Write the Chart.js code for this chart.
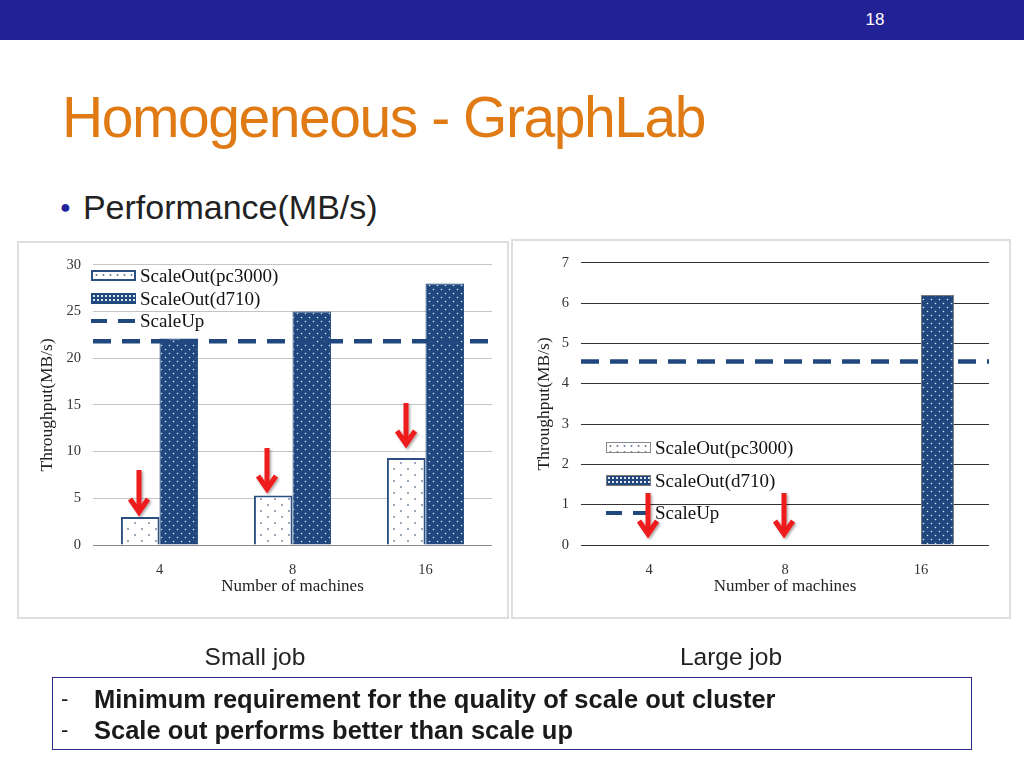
<!DOCTYPE html>
<html lang="en">
<head>
    <meta charset="UTF-8">
    <title>Homogeneous - GraphLab</title>
    <script src="https://cdn.jsdelivr.net/npm/chart.js"></script>
    <style>
        body {
            margin: 0;
            width: 1024px;
            height: 768px;
            position: relative;
            overflow: hidden;
            background: #fff;
            font-family: "Liberation Sans", Arial, sans-serif;
        }

        .topbar {
            position: absolute;
            left: 0; top: 0;
            width: 1024px; height: 40px;
            background: #222296;
        }

        .pagenum {
            position: absolute;
            left: 860px; top: 10px;
            width: 30px;
            text-align: center;
            color: #fff;
            font-size: 17px;
            line-height: 20px;
        }

        h1 {
            position: absolute;
            left: 62px; top: 89px;
            margin: 0;
            font-weight: normal;
            font-size: 57px;
            line-height: 1;
            letter-spacing: -1.45px;
            color: #DF7A14;
        }

        .bullet {
            position: absolute;
            left: 60px; top: 190px;
            font-size: 34px;
            line-height: 1;
            color: #222;
        }
        .bullet span { color: #22229a; font-size: 18px; vertical-align: 6px; margin-right: 12px; }

        /* chart panels */
        .panel {
            position: absolute;
            border: 2px solid #dedede;
            box-sizing: border-box;
        }
        #leftPanel { left: 17px; top: 241px; width: 492px; height: 378px; }
        #rightPanel { left: 511px; top: 239px; width: 500px; height: 380px; }

        .chart-wrap { position: absolute; }
        #leftWrap { left: 20px; top: 244px; width: 486px; height: 372px; }
        #rightWrap { left: 514px; top: 242px; width: 494px; height: 374px; }

        /* legends inside the plots */
        .legend {
            position: absolute;
            font-family: "Liberation Serif", "Times New Roman", serif;
            font-size: 19px;
            color: #111;
        }
        .legend div { position: relative; height: 20px; line-height: 20px; padding-left: 49px; white-space: nowrap; }
        .legend i {
            position: absolute;
            left: 0; top: 4px;
            width: 45px; height: 11px;
            box-sizing: border-box;
        }
        .legend .sw-pc {
            border: 2px solid #2B4F81;
            background: #fff radial-gradient(circle, #6d7f99 0.9px, transparent 1.2px) 0 0 / 7px 6px;
        }
        .legend .sw-d7 {
            border: 1px solid #21487E;
            background: #21487E radial-gradient(circle, #dfe6f0 0.8px, transparent 1.1px) 0 0 / 4px 4px;
        }
        .legend .sw-up { top: 8px; height: 4px; width: 46px;
            background: linear-gradient(90deg, #21487E 0 16px, transparent 16px 27px, #21487E 27px 44px, transparent 44px);
        }
        #leftLegend { left: 91px; top: 266px; }
        #leftLegend div { margin-bottom: 2.5px; }
        #rightLegend { left: 606px; top: 438px; }
        #rightLegend div { margin-bottom: 12.5px; }
        #rightLegend .sw-pc { border: 1.5px solid #888; }
        #rightLegend .sw-d7 { border: 1px solid #777; }

        .arrows { position: absolute; left: 0; top: 0; width: 1024px; height: 768px; pointer-events: none; }

        .caption {
            position: absolute;
            top: 643px;
            width: 200px;
            text-align: center;
            font-size: 24.5px;
            line-height: 28px;
            color: #222;
        }

        .notes {
            position: absolute;
            left: 52px; top: 677px;
            width: 920px; height: 73px;
            box-sizing: border-box;
            border: 1px solid #2b2b8c;
            font-size: 25.5px;
            font-weight: bold;
            color: #1a1a1a;
            padding-top: 7px;
        }
        .notes div { position: relative; height: 31px; line-height: 28px; padding-left: 41px; }
        .notes div b { position: absolute; left: 8px; font-weight: normal; font-size: 22px; }
    </style>
</head>
<body>
    <div class="topbar"></div>
    <div class="pagenum">18</div>

    <h1>Homogeneous - GraphLab</h1>
    <div class="bullet"><span>&#9679;</span>Performance(MB/s)</div>

    <div class="panel" id="leftPanel"></div>
    <div class="panel" id="rightPanel"></div>

    <div class="chart-wrap" id="leftWrap"><canvas id="smallChart"></canvas></div>
    <div class="chart-wrap" id="rightWrap"><canvas id="largeChart"></canvas></div>

    <div class="legend" id="leftLegend">
        <div><i class="sw-pc"></i>ScaleOut(pc3000)</div>
        <div><i class="sw-d7"></i>ScaleOut(d710)</div>
        <div><i class="sw-up"></i>ScaleUp</div>
    </div>
    <div class="legend" id="rightLegend">
        <div><i class="sw-pc"></i>ScaleOut(pc3000)</div>
        <div><i class="sw-d7"></i>ScaleOut(d710)</div>
        <div><i class="sw-up"></i>ScaleUp</div>
    </div>

    <svg class="arrows" id="arrows"></svg>

    <div class="caption" style="left:155px;">Small job</div>
    <div class="caption" style="left:631px;">Large job</div>

    <div class="notes">
        <div><b>-</b>Minimum requirement for the quality of scale out cluster</div>
        <div><b>-</b>Scale out performs better than scale up</div>
    </div>

    <script>
        // categories shared by both charts
        const machines = ['4', '8', '16'];

        // small job throughput (MB/s)
        const smallPc3000 = [3.0, 5.3, 9.3];
        const smallD710 = [22.1, 25.0, 28.0];
        const smallScaleUp = 21.8;

        // large job throughput (MB/s) - nothing finished at 4/8 machines
        const largePc3000 = [null, null, null];
        const largeD710 = [null, null, 6.2];
        const largeScaleUp = 4.55;

        const seriesNames = ['ScaleOut(pc3000)', 'ScaleOut(d710)', 'ScaleUp'];
        const navy = '#21487E';

        // dotted fills like the office chart
        function dotPattern(bg, dot, w, h, pts, r) {
            const c = document.createElement('canvas');
            c.width = w; c.height = h;
            const g = c.getContext('2d');
            g.fillStyle = bg;
            g.fillRect(0, 0, w, h);
            g.fillStyle = dot;
            pts.forEach(p => {
                g.beginPath();
                g.arc(p[0], p[1], r, 0, Math.PI * 2);
                g.fill();
            });
            return g.createPattern(c, 'repeat');
        }
        const pcFill = dotPattern('#ffffff', '#6d7f99', 14, 12, [[3, 3], [10, 9]], 0.9);
        const d7Fill = dotPattern(navy, '#e3e9f2', 8, 8, [[1.5, 1.5], [5.5, 5.5]], 0.8);

        // scale-up is one flat value, drawn edge to edge of the category axis
        function flatLine(v) {
            return [{ x: -0.5, y: v }, { x: machines.length - 0.5, y: v }];
        }

        function makeChart(id, cfg) {
            return new Chart(document.getElementById(id), {
                data: {
                    labels: machines,
                    datasets: [
                        {
                            type: 'bar',
                            label: seriesNames[0],
                            data: cfg.pc,
                            backgroundColor: pcFill,
                            borderColor: '#2B4F81',
                            borderWidth: 2,
                            categoryPercentage: cfg.catPct,
                            barPercentage: 1.0,
                            order: 1
                        },
                        {
                            type: 'bar',
                            label: seriesNames[1],
                            data: cfg.d7,
                            backgroundColor: d7Fill,
                            borderColor: cfg.d7Border,
                            borderWidth: 1,
                            categoryPercentage: cfg.catPct,
                            barPercentage: 1.0,
                            order: 1
                        },
                        {
                            type: 'line',
                            label: seriesNames[2],
                            parsing: false,
                            data: flatLine(cfg.up),
                            borderColor: navy,
                            borderWidth: 4.5,
                            borderDash: [18, 11],
                            pointRadius: 0,
                            fill: false,
                            order: cfg.lineOrder
                        }
                    ]
                },
                options: {
                    responsive: true,
                    maintainAspectRatio: false,
                    animation: false,
                    layout: { padding: cfg.pad },
                    plugins: {
                        legend: { display: false },
                        tooltip: { enabled: false }
                    },
                    scales: {
                        x: {
                            type: 'category',
                            offset: true,
                            grid: { display: false },
                            border: { display: false },
                            ticks: {
                                padding: 8,
                                color: '#333',
                                font: { family: 'Liberation Serif', size: 14.5 }
                            },
                            title: {
                                display: true,
                                text: 'Number of machines',
                                color: '#222',
                                padding: { top: 0, bottom: 19 },
                                font: { family: 'Liberation Serif', size: 17 }
                            },
                            afterFit: s => { s.height = 71; }
                        },
                        y: {
                            min: 0,
                            max: cfg.max,
                            grid: {
                                color: ctx => ctx.tick && ctx.tick.value === 0 ? cfg.zeroColor : cfg.gridColor,
                                lineWidth: 1,
                                drawTicks: false
                            },
                            border: { display: false },
                            ticks: {
                                stepSize: cfg.step,
                                padding: 12,
                                color: '#333',
                                font: { family: 'Liberation Serif', size: 14.5 }
                            },
                            title: {
                                display: true,
                                text: 'Throughput(MB/s)',
                                color: '#222',
                                padding: { top: cfg.yTitlePad, bottom: 0 },
                                font: { family: 'Liberation Serif', size: 17.5 }
                            },
                            afterFit: s => { s.width = cfg.yWidth; }
                        }
                    }
                }
            });
        }

        makeChart('smallChart', {
            pc: smallPc3000, d7: smallD710, up: smallScaleUp,
            max: 30, step: 5, catPct: 0.58,
            d7Border: navy, lineOrder: 0,
            gridColor: '#c4c4c4', zeroColor: '#8a8a8a',
            pad: { left: 0, top: 18, right: 14, bottom: 0 },
            yWidth: 73, yTitlePad: 17
        });

        makeChart('largeChart', {
            pc: largePc3000, d7: largeD710, up: largeScaleUp,
            max: 7, step: 1, catPct: 0.485,
            d7Border: '#7a7a7a', lineOrder: 2,
            gridColor: '#333333', zeroColor: '#333333',
            pad: { left: 0, top: 19, right: 19, bottom: 0 },
            yWidth: 67, yTitlePad: 20
        });

        // red call-out arrows placed on the slide (x, top, tip)
        const arrowSpots = [[139, 470, 515], [267, 448, 492], [406, 403, 447], [648, 493, 537], [784, 493, 537]];
        const svg = document.getElementById('arrows');
        svg.innerHTML = '<defs><filter id="sh" x="-50%" y="-50%" width="200%" height="200%">' +
            '<feDropShadow dx="1.5" dy="1.5" stdDeviation="1" flood-color="#000" flood-opacity="0.35"/></filter></defs>' +
            arrowSpots.map(([x, t, b]) =>
                `<g filter="url(#sh)" stroke="#EE1A1A" stroke-width="5" fill="none">
                    <line x1="${x}" y1="${t}" x2="${x}" y2="${b - 3}"/>
                    <polyline points="${x - 9},${b - 16} ${x},${b - 3} ${x + 9},${b - 16}" stroke-linejoin="miter"/>
                 </g>`).join('');
    </script>
</body>
</html>
